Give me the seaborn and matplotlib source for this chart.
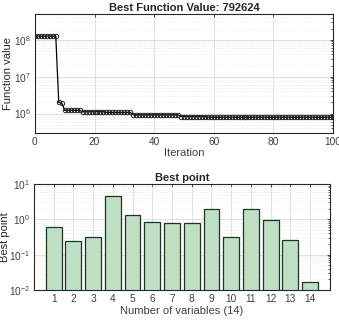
import numpy as np
import pandas as pd
import matplotlib
matplotlib.use('Agg')
import matplotlib.pyplot as plt
import seaborn as sns

# top panel: best function value per iteration (step levels)
step_start = [0, 8, 9, 10, 16, 24, 33, 49, 58]
step_value = [1.25e8, 2.0e6, 1.95e6, 1.22e6, 1.12e6, 1.07e6, 9.2e5, 8.3e5, 792624]
n_iter = 101

# bottom panel: best point per variable
var_idx = list(range(1, 15))
best_point = [0.62, 0.25, 0.32, 4.6, 1.3, 0.85, 0.77, 0.79, 2.0, 0.32, 2.0, 0.93, 0.26, 0.0166]

lengths = np.diff(step_start + [n_iter])
fval = np.repeat(step_value, lengths)
df_top = pd.DataFrame({'Iteration': np.arange(n_iter), 'fval': fval})
df_bot = pd.DataFrame({'var': var_idx, 'val': best_point})

sns.set_theme(style='whitegrid')
plt.rcParams['font.family'] = ['Liberation Sans', 'DejaVu Sans']
plt.rcParams['mathtext.fontset'] = 'custom'
plt.rcParams['mathtext.rm'] = 'Liberation Sans'
plt.rcParams['axes.edgecolor'] = '#262626'
plt.rcParams['axes.linewidth'] = 0.8

fig = plt.figure(figsize=(3.39, 3.24), dpi=100)
ax1 = fig.add_axes([0.103, 0.590, 0.879, 0.367])
ax2 = fig.add_axes([0.100, 0.105, 0.873, 0.327])

def style_axes(ax):
    ax.set_yscale('log')
    ax.grid(True, which='major', color='#dcdcdc', linewidth=0.6)
    ax.grid(True, which='minor', axis='y', color='#e0e0e0', linewidth=0.5, linestyle=':')
    ax.tick_params(which='both', direction='in', top=True, right=True,
                   colors='#262626', labelsize=7.3, labelcolor='#404040', pad=3)
    ax.tick_params(which='major', length=2.5, width=0.6)
    ax.tick_params(which='minor', length=1.5, width=0.5)
    for s in ax.spines.values():
        s.set_visible(True)
        s.set_color('#262626')
        s.set_linewidth(0.8)
    ax.set_axisbelow(True)

sns.lineplot(data=df_top, x='Iteration', y='fval', ax=ax1, color='black',
             marker='o', markersize=3.2, markeredgewidth=0.7, markerfacecolor='none',
             markeredgecolor='#222222', linewidth=0.9)
style_axes(ax1)
ax1.set_xlim(0, 100)
ax1.set_ylim(3e5, 5e8)
ax1.set_xticks([0, 20, 40, 60, 80, 100])
ax1.set_yticks([1e6, 1e7, 1e8])
ax1.set_xlabel('Iteration', fontsize=8, color='#404040', labelpad=1)
ax1.set_ylabel('Function value', fontsize=8, color='#262626')
ax1.yaxis.set_label_coords(-0.074, 0.5)
ax1.set_title('Best Function Value: 792624', fontsize=8, fontweight='bold', pad=2)

sns.barplot(data=df_bot, x='var', y='val', ax=ax2, native_scale=True,
            color='#bfdfc4', saturation=1, edgecolor='#1c3522', linewidth=0.9, width=0.8)
style_axes(ax2)
ax2.set_xlim(0, 15)
ax2.set_ylim(1e-2, 1e1)
ax2.set_xticks(var_idx)
ax2.set_yticks([1e-2, 1e-1, 1e0, 1e1])
ax2.set_xlabel('Number of variables (14)', fontsize=8, color='#404040', labelpad=1)
ax2.set_ylabel('Best point', fontsize=8, color='#262626')
ax2.yaxis.set_label_coords(-0.081, 0.5)
ax2.set_title('Best point', fontsize=8, fontweight='bold', pad=2)

fig.savefig('out.png', dpi=100)
